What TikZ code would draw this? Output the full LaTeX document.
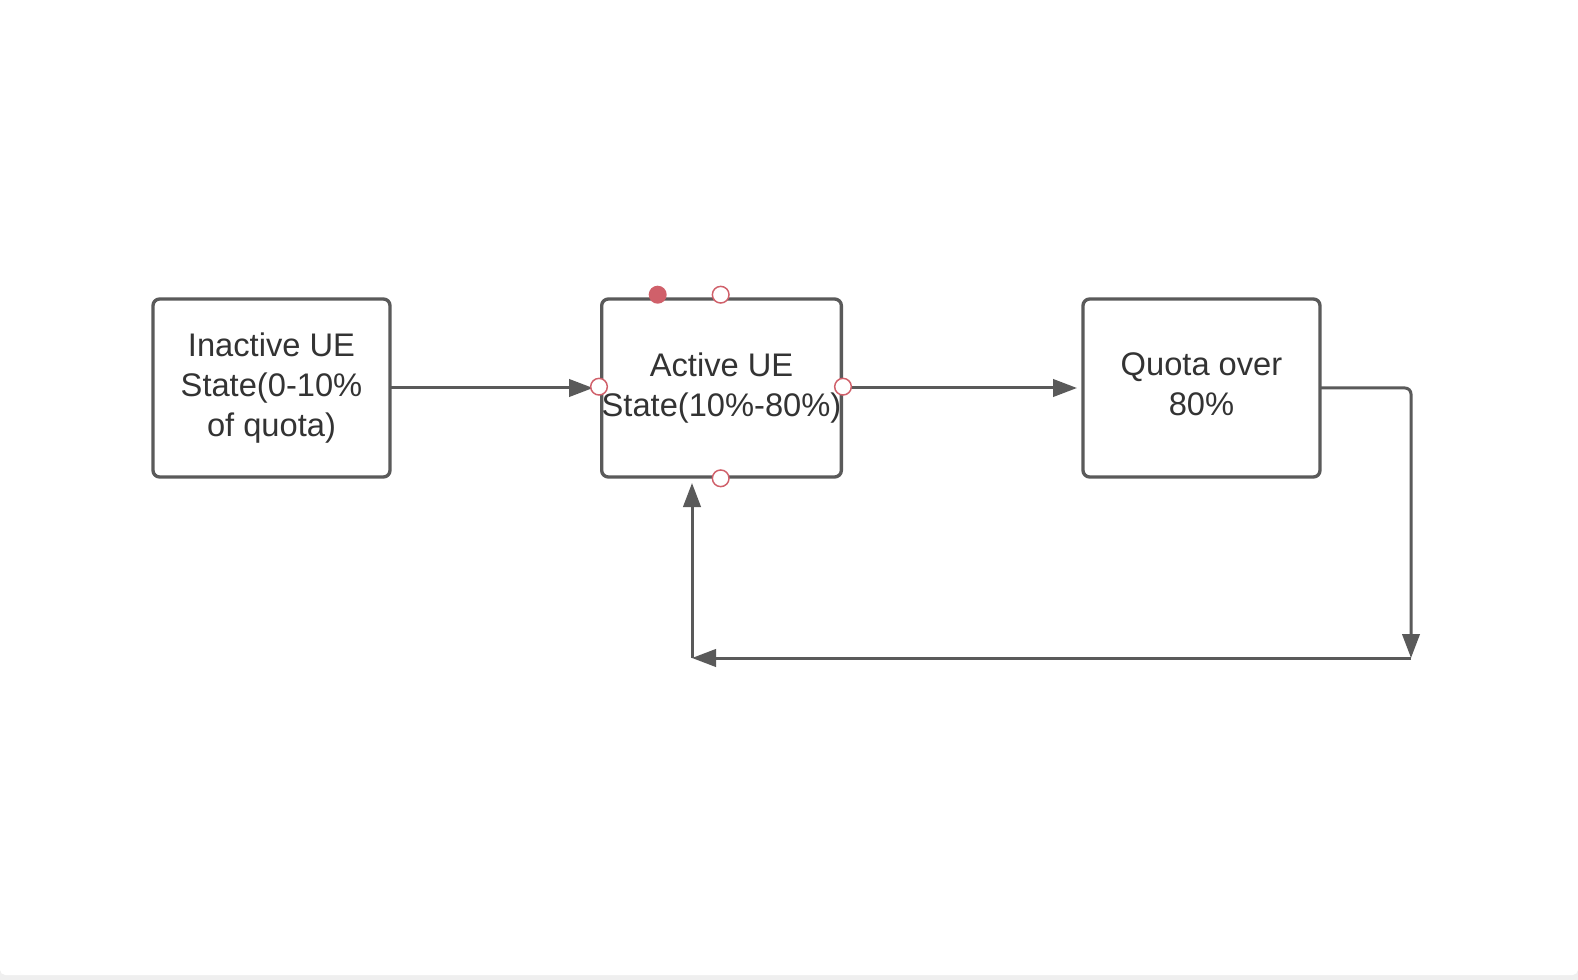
\documentclass[tikz,border=0pt]{standalone}
\usepackage{fontspec}
\setmainfont{Liberation Sans}
\usetikzlibrary{arrows.meta,positioning}

\definecolor{lineGray}{HTML}{5A5A5A}
\definecolor{textGray}{HTML}{333333}
\definecolor{handleRed}{HTML}{D0606A}
\definecolor{stripGray}{HTML}{EFEFEF}

\tikzset{
  state/.style={draw=lineGray, line width=2.5pt, rounded corners=5pt, fill=white,
    minimum width=177.75pt, minimum height=133.5pt, inner sep=0pt, outer sep=0pt,
    align=center, text=textGray, text depth=5.2pt, font=\fontsize{24.5}{30}\selectfont},
  flow/.style={draw=lineGray, line width=2.25pt, -{Triangle[length=18pt,width=13pt]}},
  handle/.style={circle, draw=handleRed, fill=white, line width=1.1pt,
    minimum size=12.5pt, inner sep=0pt},
  handleOn/.style={circle, fill=handleRed, minimum size=13.5pt, inner sep=0pt},
}

\begin{document}
\begin{tikzpicture}[x=0.75pt,y=0.75pt,yscale=-1,xscale=1]
\useasboundingbox (0,0) rectangle (1578,980);

%Shape: Page strip
\fill[stripGray] (0,968) rectangle (1578,980);
\fill[white, rounded corners=4] (0,-20) rectangle (1578,975);

%Shape: Rectangle [inactive]
\node[state] (inactive) at (271.5,388) {Inactive UE\\State(0-10\%\\of quota)};
%Shape: Rectangle [active]
\node[state] (active) at (721.5,388) {Active UE\\State(10\%-80\%)};
%Shape: Rectangle [quota]
\node[state] (quota) at (1201.5,388) {Quota over\\80\%};

%Turning points of the way back
\coordinate (turnR) at (1411,658);
\coordinate (turnL) at (692,658);

%Straight Lines
\draw[flow, shorten >=6.5pt] (inactive) -- (active);
\draw[flow, shorten >=4.5pt] (active) -- (quota);
%Elbow Lines
\draw[flow, rounded corners=4.5] (quota.east) -| (turnR);
\draw[flow] (turnR) -- (turnL);
\draw[flow, shorten >=4.5pt] (turnL) -- (turnL |- active.south);

%Shape: Circle handles on the active box
\node[handle] (hdlW) at (599,386.7) {};
\node[handle] (hdlE) at (843,386.7) {};
\node[handle] (hdlN) at (720.7,294.7) {};
\node[handle] (hdlS) at (720.7,478.3) {};
\node[handleOn] (hdlDot) at (657.7,294.7) {};

\end{tikzpicture}
\end{document}
